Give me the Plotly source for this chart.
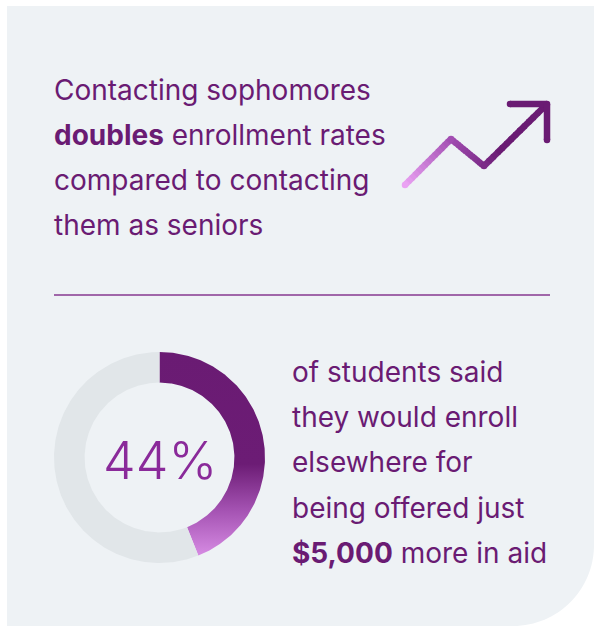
import numpy as np
import plotly.graph_objects as go

W, H = 594, 626

# ---- data / text ----
share_labels = ["Would enroll elsewhere", "Other"]
share_values = [44, 56]
center_label = "44%"
top_lines = [
    "Contacting sophomores",
    "<b>doubles</b> enrollment rates",
    "compared to contacting",
    "them as seniors",
]
bottom_lines = [
    "of students said",
    "they would enroll",
    "elsewhere for",
    "being offered just",
    "<b>$5,000</b> more in aid",
]

# ---- style ----
CARD = "#EEF2F5"
RING = "#E1E6E9"
PURPLE = "#6A1B73"
TEXT = "#6A1B73"
FONT = "Inter"


def px(x):
    return x / W


def py(y):
    return 1 - y / H


fig = go.Figure()

# ---- donut drawn from share values ----
total = sum(share_values)
r_out, r_in = 1.0, 0.71
start = 0.0
for i, v in enumerate(share_values):
    a0 = 2 * np.pi * start / total
    a1 = 2 * np.pi * (start + v) / total
    th = np.linspace(a0, a1, 240)
    xs = np.concatenate([r_out * np.sin(th), r_in * np.sin(th[::-1])])
    ys = np.concatenate([r_out * np.cos(th), r_in * np.cos(th[::-1])])
    xs = np.append(xs, xs[0])
    ys = np.append(ys, ys[0])
    if i == 0:
        ymin = ys.min()
        fig.add_trace(go.Scatter(
            x=xs, y=ys, mode="lines", fill="toself", line=dict(width=0),
            fillgradient=dict(
                type="vertical",
                colorscale=[[0, "#D68BE3"], [0.22, "#A553B3"], [0.45, "#6C1C75"], [1, PURPLE]],
                start=ymin, stop=1.0),
            hoverinfo="skip", name=share_labels[i], showlegend=False))
    else:
        fig.add_trace(go.Scatter(
            x=xs, y=ys, mode="lines", fill="toself", line=dict(width=0),
            fillcolor=RING, hoverinfo="skip", name=share_labels[i], showlegend=False))
    start += v

cx, cy, R = 159.5, 457.5, 105.5
fig.update_layout(
    xaxis=dict(domain=[px(cx - R), px(cx + R)], range=[-1, 1], visible=False, fixedrange=True),
    yaxis=dict(domain=[py(cy + R), py(cy - R)], range=[-1, 1], visible=False, fixedrange=True),
)

shapes = []
# card with rounded bottom-right corner
rc = 81
k = 0.5523 * rc
pts = [
    ("M", [(7, 6)]), ("L", [(W, 6)]), ("L", [(W, H - rc)]),
    ("C", [(W, H - rc + k), (W - rc + k, H), (W - rc, H)]),
    ("L", [(7, H)]),
]
path = ""
for cmd, ps in pts:
    path += cmd + " ".join(f"{px(a):.5f},{py(b):.5f}" for a, b in ps) + " "
path += "Z"
shapes.append(dict(type="path", path=path, xref="paper", yref="paper",
                   fillcolor=CARD, line=dict(width=0), layer="below"))

# separator
shapes.append(dict(type="line", xref="paper", yref="paper",
                   x0=px(54), x1=px(550), y0=py(295), y1=py(295),
                   line=dict(color="#86398F", width=1.4)))

# trend arrow icon with gradient (decorative)
poly = [(405, 185), (451, 139), (484, 166), (546, 105)]
c_light = np.array([0xEA, 0xA2, 0xF3])
c_mid = np.array([0xA0, 0x4C, 0xB0])
c_dark = np.array([0x6A, 0x1B, 0x73])


def col_at(x):
    t = (x - 405) / (500 - 405)
    t = min(max(t, 0), 1)
    if t < 0.5:
        c = c_light + (c_mid - c_light) * (t / 0.5)
    else:
        c = c_mid + (c_dark - c_mid) * ((t - 0.5) / 0.5)
    return "rgb(%d,%d,%d)" % tuple(c.astype(int))


lw = 6.5
for (xa, ya), (xb, yb) in zip(poly[:-1], poly[1:]):
    n = 14
    for j in range(n):
        t0, t1 = j / n, (j + 1) / n
        x0, y0 = xa + (xb - xa) * t0, ya + (yb - ya) * t0
        x1, y1 = xa + (xb - xa) * t1, ya + (yb - ya) * t1
        x1e, y1e = xa + (xb - xa) * min(t1 + 0.02, 1), ya + (yb - ya) * min(t1 + 0.02, 1)
        shapes.append(dict(type="line", xref="paper", yref="paper",
                           x0=px(x0), y0=py(y0), x1=px(x1e), y1=py(y1e),
                           line=dict(color=col_at((x0 + x1) / 2), width=lw)))
# round joints and caps
for (x, y) in poly + [(510, 104), (547, 104), (547, 140)]:
    r = lw / 2
    shapes.append(dict(type="circle", xref="paper", yref="paper",
                       x0=px(x - r), x1=px(x + r), y0=py(y + r), y1=py(y - r),
                       fillcolor=col_at(x), line=dict(width=0)))
# arrow head
shapes.append(dict(type="line", xref="paper", yref="paper",
                   x0=px(510), y0=py(104), x1=px(547), y1=py(104),
                   line=dict(color=PURPLE, width=lw)))
shapes.append(dict(type="line", xref="paper", yref="paper",
                   x0=px(547), y0=py(104), x1=px(547), y1=py(140),
                   line=dict(color=PURPLE, width=lw)))

annotations = []
FS = 28
for i, t in enumerate(top_lines):
    base = 99.5 + 45 * i
    annotations.append(dict(text=t, x=px(52), y=py(base - 10), xref="paper", yref="paper",
                            xanchor="left", yanchor="middle", showarrow=False,
                            font=dict(family=FONT, size=FS, color=TEXT)))
for i, t in enumerate(bottom_lines):
    base = 381.7 + 45.3 * i
    annotations.append(dict(text=t, x=px(290), y=py(base - 10), xref="paper", yref="paper",
                            xanchor="left", yanchor="middle", showarrow=False,
                            font=dict(family=FONT, size=FS, color=TEXT)))
annotations.append(dict(text=center_label, x=0, y=-0.03, xref="x", yref="y",
                        xanchor="center", yanchor="middle", showarrow=False,
                        font=dict(family=FONT, size=52, color="#8A2A9A", weight=300)))

fig.update_layout(
    width=W, height=H, margin=dict(l=0, r=0, t=0, b=0),
    paper_bgcolor="white", plot_bgcolor="rgba(0,0,0,0)",
    shapes=shapes, annotations=annotations, showlegend=False,
)
fig.write_html("out.html", config={"displayModeBar": False},
               post_script="document.body.style.margin='0';document.body.style.overflow='hidden';")
